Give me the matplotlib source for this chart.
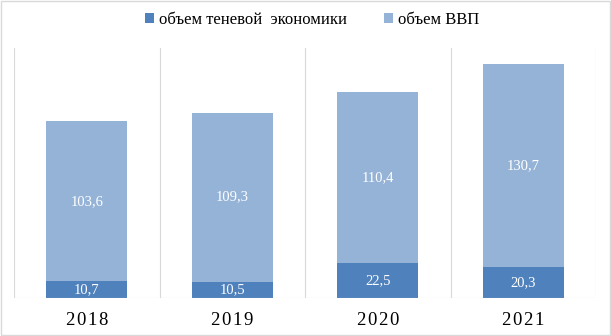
import matplotlib
matplotlib.use("Agg")
import matplotlib.pyplot as plt
from matplotlib.patches import Rectangle

years = ["2018", "2019", "2020", "2021"]
shadow = [10.7, 10.5, 22.5, 20.3]
gdp = [103.6, 109.3, 110.4, 130.7]
labels = ["объем теневой  экономики", "объем ВВП"]

c_dark = "#4F81BD"
c_light = "#95B3D7"
grid_c = "#D9D9D9"

plt.rcParams['font.family'] = ['Liberation Serif', 'DejaVu Serif']

fig = plt.figure(figsize=(6.11, 3.36), dpi=100)
ax = fig.add_axes([14/611, 38/336, 582/611, 250/336])

x = list(range(len(years)))
b1 = ax.bar(x, shadow, width=0.56, color=c_dark, label=labels[0])
b2 = ax.bar(x, gdp, width=0.56, bottom=shadow, color=c_light, label=labels[1])

for i in x:
    ax.text(i, shadow[i] / 2, f"{shadow[i]:.1f}".replace('.', ','), ha='center', va='center',
            color='white', fontsize=10.5)
    ax.text(i, shadow[i] + gdp[i] / 2, f"{gdp[i]:.1f}".replace('.', ','), ha='center', va='center',
            color='white', fontsize=10.5)

ax.set_xlim(-0.5, len(years) - 0.5)
ax.set_ylim(0, 161.5)
for b in [-0.5 + k for k in range(len(years) + 1)]:
    ax.axvline(b, color=grid_c, lw=0.8, zorder=0)
for s in ax.spines.values():
    s.set_visible(False)
ax.axhline(0, color=grid_c, lw=0.8, zorder=3)
ax.set_yticks([])
ax.set_xticks(x)
ax.set_xticklabels(["\u200a".join(y) for y in years], fontsize=13.5)
ax.tick_params(axis='x', length=0, pad=10)

fig.legend(handles=[b1, b2], labels=labels, loc='center', bbox_to_anchor=(312/611, 1 - 20/336),
           ncol=2, frameon=False, fontsize=12, handlelength=0.55, handleheight=0.55,
           handletextpad=0.3, columnspacing=2.2)

fig.patches.append(Rectangle((0.001, 0.002), 0.997, 0.995, transform=fig.transFigure,
                             fill=False, edgecolor=grid_c, lw=1))

fig.savefig("out.png", dpi=100)
